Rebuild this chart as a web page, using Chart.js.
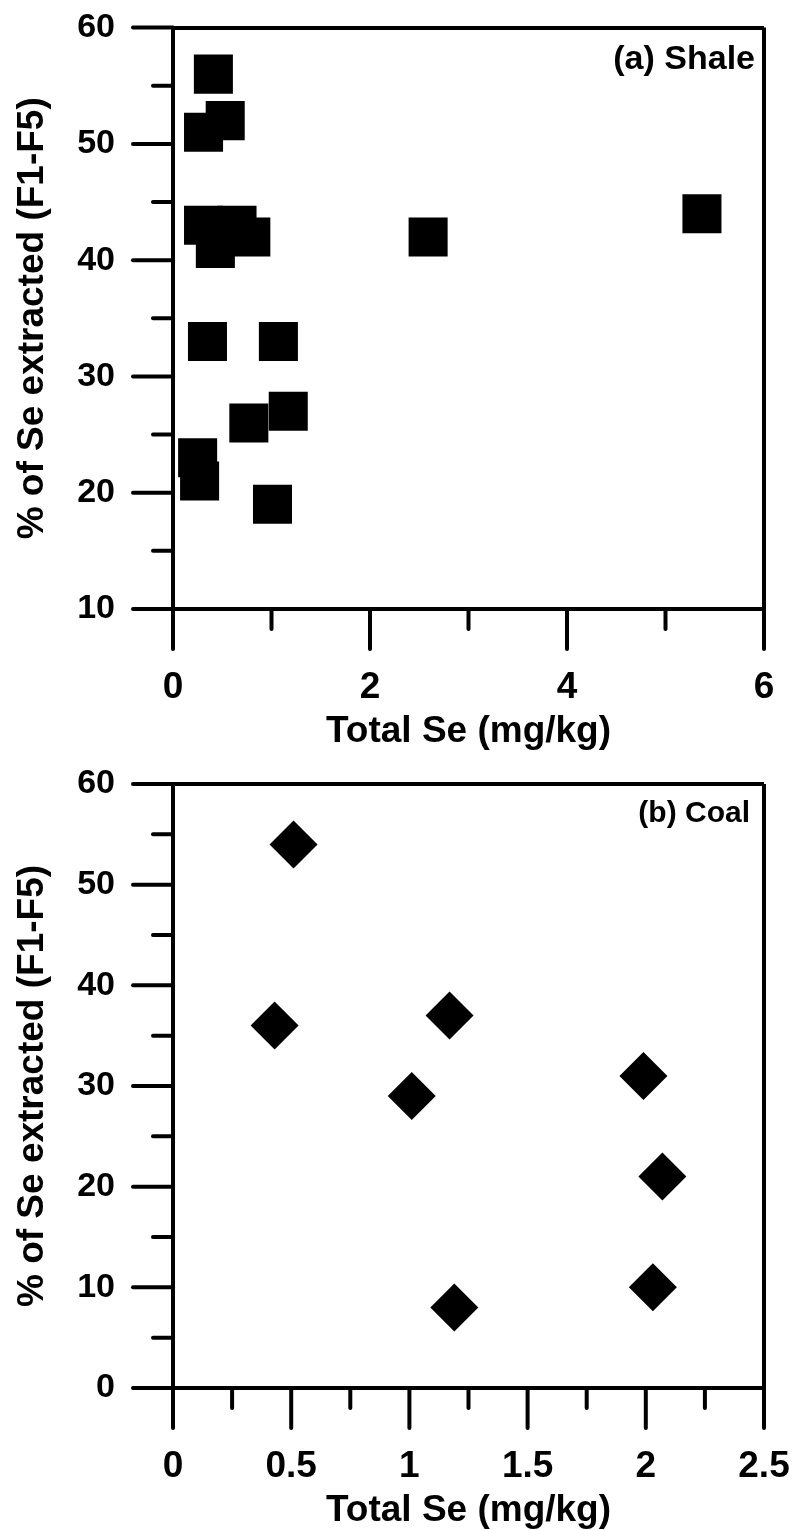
<!DOCTYPE html>
<html>
<head>
<meta charset="utf-8">
<script src="https://cdn.jsdelivr.net/npm/chart.js@4.4.1/dist/chart.umd.min.js"></script>
<style>
    body { margin: 0; background: #fff; }
    .panel { position: absolute; left: 0; }
    #shalePanel { top: 0; }
    #coalPanel { top: 760px; }
</style>
</head>
<body>
<div class="panel" id="shalePanel"><canvas id="shaleChart" width="795" height="760"></canvas></div>
<div class="panel" id="coalPanel"><canvas id="coalChart" width="795" height="771"></canvas></div>
<script>
/* Se extraction vs total Se, (a) shale and (b) coal */

/* (a) Shale */
const shaleTotalSe = [0.41, 0.53, 0.31, 0.31, 0.65, 0.79, 0.43, 2.59, 5.37, 0.35, 1.07, 0.77, 1.17, 0.25, 0.27, 1.01];
const shaleExtracted = [56, 52, 51, 43, 43, 42, 41, 42, 44, 33, 33, 26, 27, 23, 21, 19];
const shaleXTicks = [0, 1, 2, 3, 4, 5, 6];
const shaleXLabels = ['0', '', '2', '', '4', '', '6'];
const shaleYTicks = [10, 15, 20, 25, 30, 35, 40, 45, 50, 55, 60];
const shaleYLabels = ['10', '', '20', '', '30', '', '40', '', '50', '', '60'];

/* (b) Coal */
const coalTotalSe = [0.51, 0.43, 1.17, 1.01, 1.99, 2.07, 1.19, 2.03];
const coalExtracted = [54, 36, 37, 29, 31, 21, 8, 10];
const coalXTicks = [0, 0.25, 0.5, 0.75, 1, 1.25, 1.5, 1.75, 2, 2.25, 2.5];
const coalXLabels = ['0', '', '0.5', '', '1', '', '1.5', '', '2', '', '2.5'];
const coalYTicks = [0, 5, 10, 15, 20, 25, 30, 35, 40, 45, 50, 55, 60];
const coalYLabels = ['0', '', '10', '', '20', '', '30', '', '40', '', '50', '', '60'];

const xTitle = 'Total Se (mg/kg)';
const yTitle = '% of Se extracted (F1-F5)';

const FONT = '"Liberation Sans", Arial, Helvetica, sans-serif';

/* tick marks: long for labelled ticks, short for the others */
const tickMarks = {
    id: 'tickMarks',
    afterDraw(chart) {
        const ctx = chart.ctx;
        ctx.save();
        ctx.strokeStyle = '#000';
        ctx.lineWidth = 4;
        ctx.lineCap = 'round';
        Object.values(chart.scales).forEach(scale => {
            const labels = scale.options.tickLabelList;
            scale.ticks.forEach((tick, i) => {
                const len = labels[i] !== '' ? 40 : 20;
                const p = scale.getPixelForValue(tick.value);
                ctx.beginPath();
                if (scale.isHorizontal()) {
                    ctx.moveTo(p, scale.top);
                    ctx.lineTo(p, scale.top + len);
                } else {
                    ctx.moveTo(scale.right, p);
                    ctx.lineTo(scale.right - len, p);
                }
                ctx.stroke();
            });
        });
        ctx.restore();
    }
};

/* panel label in the upper right corner */
const panelLabel = {
    id: 'panelLabel',
    afterDraw(chart, args, opts) {
        const ctx = chart.ctx;
        const area = chart.chartArea;
        ctx.save();
        ctx.fillStyle = '#000';
        ctx.font = 'bold ' + opts.size + 'px ' + FONT;
        ctx.textAlign = 'right';
        ctx.textBaseline = 'middle';
        ctx.fillText(opts.text, area.right - opts.dx, area.top + opts.dy);
        ctx.restore();
    }
};

function frameColor(max) {
    return c => (c.tick && c.tick.value === max) ? '#000' : 'rgba(0,0,0,0)';
}

/* the big tick padding would otherwise push the plot area in */
function clearPadding(scale) {
    scale.paddingTop = 0;
    scale.paddingBottom = 0;
    scale.paddingLeft = 0;
    scale.paddingRight = 0;
}

function makeChart(canvasId, cfg) {
    const ctx = document.getElementById(canvasId).getContext('2d');
    return new Chart(ctx, {
        type: 'scatter',
        data: {
            datasets: [{
                data: cfg.xs.map((x, i) => ({ x: x, y: cfg.ys[i] })),
                backgroundColor: '#000',
                borderColor: '#000',
                borderWidth: 0,
                pointStyle: cfg.pointStyle,
                pointRadius: cfg.pointRadius,
                pointHoverRadius: cfg.pointRadius
            }]
        },
        options: {
            responsive: false,
            animation: false,
            devicePixelRatio: 1,
            layout: {
                padding: { top: cfg.padTop, right: 31, left: 0, bottom: 0 }
            },
            plugins: {
                legend: { display: false },
                tooltip: { enabled: false },
                panelLabel: cfg.label
            },
            scales: {
                x: {
                    type: 'linear',
                    min: cfg.xTicks[0],
                    max: cfg.xTicks[cfg.xTicks.length - 1],
                    tickLabelList: cfg.xLabels,
                    afterBuildTicks: scale => {
                        scale.ticks = cfg.xTicks.map(v => ({ value: v }));
                    },
                    afterFit: scale => {
                        scale.height = cfg.xHeight;
                        clearPadding(scale);
                    },
                    ticks: {
                        autoSkip: false,
                        maxRotation: 0,
                        padding: 60,
                        color: '#000',
                        font: { family: FONT, size: 37, weight: 'bold', lineHeight: 1 },
                        callback: (v, i) => cfg.xLabels[i]
                    },
                    grid: {
                        drawTicks: false,
                        lineWidth: 4,
                        color: frameColor(cfg.xTicks[cfg.xTicks.length - 1])
                    },
                    border: { display: true, color: '#000', width: 4 },
                    title: {
                        display: true,
                        text: xTitle,
                        color: '#000',
                        padding: { top: 0, bottom: cfg.xTitlePad },
                        font: { family: FONT, size: 37, weight: 'bold', lineHeight: 1 }
                    }
                },
                y: {
                    type: 'linear',
                    min: cfg.yTicks[0],
                    max: cfg.yTicks[cfg.yTicks.length - 1],
                    tickLabelList: cfg.yLabels,
                    afterBuildTicks: scale => {
                        scale.ticks = cfg.yTicks.map(v => ({ value: v }));
                    },
                    afterFit: scale => {
                        scale.width = 173;
                        clearPadding(scale);
                    },
                    ticks: {
                        autoSkip: false,
                        padding: 58,
                        color: '#000',
                        font: { family: FONT, size: 34, weight: 'bold', lineHeight: 1 },
                        callback: (v, i) => cfg.yLabels[i]
                    },
                    grid: {
                        drawTicks: false,
                        lineWidth: 4,
                        color: frameColor(cfg.yTicks[cfg.yTicks.length - 1])
                    },
                    border: { display: true, color: '#000', width: 4 },
                    title: {
                        display: true,
                        text: yTitle,
                        color: '#000',
                        padding: { top: 14.5, bottom: 0 },
                        font: { family: FONT, size: 37, weight: 'bold', lineHeight: 1 }
                    }
                }
            }
        },
        plugins: [tickMarks, panelLabel]
    });
}

makeChart('shaleChart', {
    xs: shaleTotalSe, ys: shaleExtracted,
    xTicks: shaleXTicks, xLabels: shaleXLabels,
    yTicks: shaleYTicks, yLabels: shaleYLabels,
    pointStyle: 'rect', pointRadius: 27.6,
    padTop: 21, xHeight: 151, xTitlePad: 9.5,
    label: { text: '(a) Shale', size: 34, dx: 9, dy: 32 }
});

makeChart('coalChart', {
    xs: coalTotalSe, ys: coalExtracted,
    xTicks: coalXTicks, xLabels: coalXLabels,
    yTicks: coalYTicks, yLabels: coalYLabels,
    pointStyle: 'rectRot', pointRadius: 24,
    padTop: 17, xHeight: 143, xTitlePad: 1.5,
    label: { text: '(b) Coal', size: 30, dx: 14, dy: 30 }
});
</script>
</body>
</html>
